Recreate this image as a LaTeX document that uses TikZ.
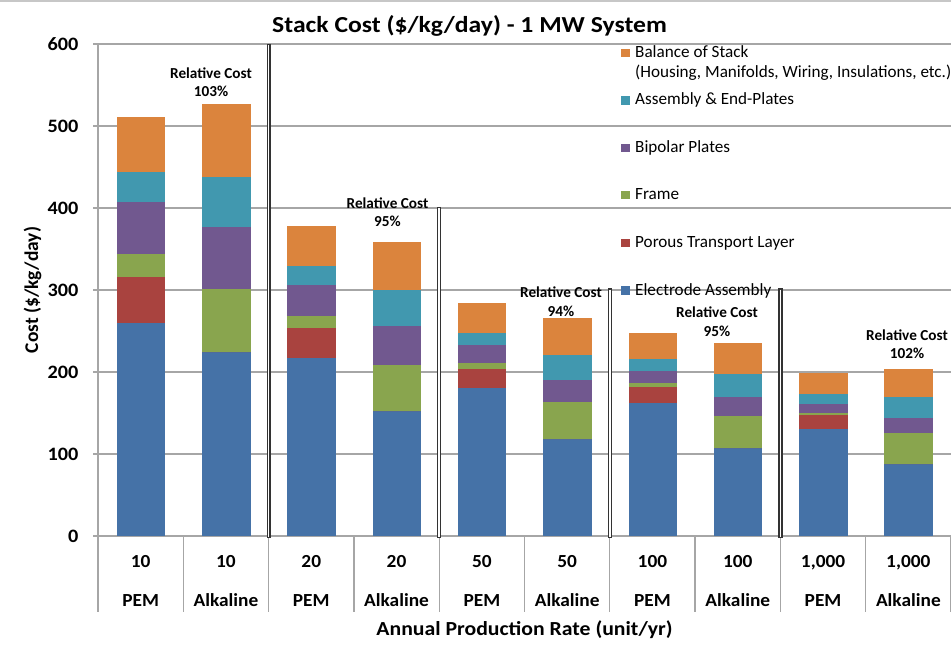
\documentclass[tikz,border=0pt]{standalone}
\usepackage{graphicx}
\usepackage{fontspec}
\setmainfont{Carlito}
\definecolor{cEA}{HTML}{4572A7}
\definecolor{cPTL}{HTML}{A9433F}
\definecolor{cFr}{HTML}{89A54E}
\definecolor{cBP}{HTML}{71588F}
\definecolor{cAEP}{HTML}{4198AF}
\definecolor{cBoS}{HTML}{DB843D}
\newcommand{\hstretch}[2]{\scalebox{#1}[1]{#2}}
\begin{document}
\begin{tikzpicture}[x=1bp,y=-1bp,
  grid/.style={draw=black!35, line width=1.3bp},
  ticklbl/.style={font=\fontsize{19}{19}\selectfont\bfseries, anchor=base east, inner sep=0pt},
  catlbl/.style={font=\fontsize{18.5}{18.5}\selectfont\bfseries, anchor=base, inner sep=0pt},
  rellbl/.style={font=\fontsize{15.3}{15.3}\selectfont\bfseries, anchor=base, inner sep=0pt},
  leglbl/.style={font=\fontsize{17.2}{17.2}\selectfont, anchor=base west, inner sep=0pt},
  axtitle/.style={font=\fontsize{20}{20}\selectfont\bfseries, anchor=base, inner sep=0pt},
  brkout/.style={draw=black!80, line width=4.2bp},
  brkin/.style={draw=white, line width=1.6bp}]
\useasboundingbox (0,0) rectangle (951,648);
\fill[white] (0,0) rectangle (951,648);
\draw[black!22, line width=1.5bp] (0,1) -- (951,1);
% gridlines
\foreach \v in {1,...,6} {
  \draw[grid] (93,{536-82*\v}) -- (951,{536-82*\v});
}
% tick labels
\foreach \v in {0,...,6} {
  \node[ticklbl] (tick\v) at (78.5,{536-82*\v+6.5}) {\hstretch{1.07}{\the\numexpr\v*100\relax}};
}
% axes and category separators
\draw[grid] (98,44) -- (98,612);
\draw[grid] (93,536) -- (951,536);
\foreach \k in {1,...,10} {
  \draw[grid] ({98+85.3*\k},536) -- ({98+85.3*\k},612);
}
% bars: cumulative tops EA, PTL, Frame, BP, AEP, BoS
\foreach \i/\a/\b/\c/\d/\e/\f in {
  0/259.4/316.2/344.3/407.7/443.5/510.6,
  1/224/224/301.2/377.2/438.2/526.8,
  2/217.4/254.0/268.3/306.1/328.9/378.4,
  3/152.4/152.4/208.5/256.5/300/358.9,
  4/180.1/203.3/210.6/232.6/247.2/284.1,
  5/118/118/163.0/190.2/220.7/265.5,
  6/162.6/182.1/187.0/201.2/215.5/247.2,
  7/106.9/106.9/146.3/169.1/197.2/235.7,
  8/130.9/147.6/150.4/161.3/172.8/198.4,
  9/87.8/87.8/125.2/143.5/169.1/203.3} {
  \pgfmathsetmacro\xl{98+85.3*\i+18.7}
  \pgfmathsetmacro\xr{\xl+48.5}
  \fill[cEA] (\xl,536) rectangle (\xr,{536-0.82*\a});
  \fill[cPTL] (\xl,{536-0.82*\a}) rectangle (\xr,{536-0.82*\b});
  \fill[cFr] (\xl,{536-0.82*\b}) rectangle (\xr,{536-0.82*\c});
  \fill[cBP] (\xl,{536-0.82*\c}) rectangle (\xr,{536-0.82*\d});
  \fill[cAEP] (\xl,{536-0.82*\d}) rectangle (\xr,{536-0.82*\e});
  \fill[cBoS] (\xl,{536-0.82*\e}) rectangle (\xr,{536-0.82*\f});
}
% category labels
\foreach \i/\n/\t in {0/10/PEM, 1/10/Alkaline, 2/20/PEM, 3/20/Alkaline,
  4/50/PEM, 5/50/Alkaline, 6/100/PEM, 7/100/Alkaline,
  8/{1{,}000}/PEM, 9/{1{,}000}/Alkaline} {
  \node[catlbl] (num\i) at ({98+85.3*\i+42.65},567) {\hstretch{1.05}{\n}};
  \node[catlbl] (tech\i) at ({98+85.3*\i+42.65},606) {\hstretch{1.05}{\t}};
}
% break markers
\foreach \x/\t in {268.6/44, 439.2/207, 609.8/288, 780.4/288} {
  \draw[brkout] (\x,\t) -- (\x,538);
  \draw[brkin] (\x,\t+1.5) -- (\x,536.5);
}
% relative cost labels
\foreach \j/\x/\y/\p in {1/211/78.3/103, 2/387.5/208.3/95, 3/561/297.3/94, 4/717/317.3/95, 5/907/340/102} {
  \node[rellbl] (rel\j) at (\x,\y) {Relative Cost};
  \node[rellbl] (pct\j) at (\x,\y+18.7) {\p\%};
}
% legend
\foreach \j/\y/\c/\t in {1/57.3/cBoS/Balance of Stack, 2/105/cAEP/Assembly \& End-Plates,
  3/152.3/cBP/Bipolar Plates, 4/199.3/cFr/Frame, 5/247.3/cPTL/Porous Transport Layer,
  6/295/cEA/Electrode Assembly} {
  \fill[\c] (621,\y-8.6) rectangle (630,\y);
  \node[leglbl] (leg\j) at (635,\y) {\t};
}
\node[leglbl] (leg1b) at (635,77.3) {(Housing, Manifolds, Wiring, Insulations, etc.)};
% titles
\node[axtitle, font=\fontsize{23}{23}\selectfont\bfseries] (title) at (469.5,33) {\hstretch{1.12}{Stack Cost (\$/kg/day) - 1 MW System}};
\node[axtitle] (xtitle) at (524.5,635) {\hstretch{1.09}{Annual Production Rate (unit/yr)}};
\node[axtitle, font=\fontsize{19.5}{19.5}\selectfont\bfseries, rotate=90] (ytitle) at (38,290) {Cost (\$/kg/day)};
\end{tikzpicture}
\end{document}
